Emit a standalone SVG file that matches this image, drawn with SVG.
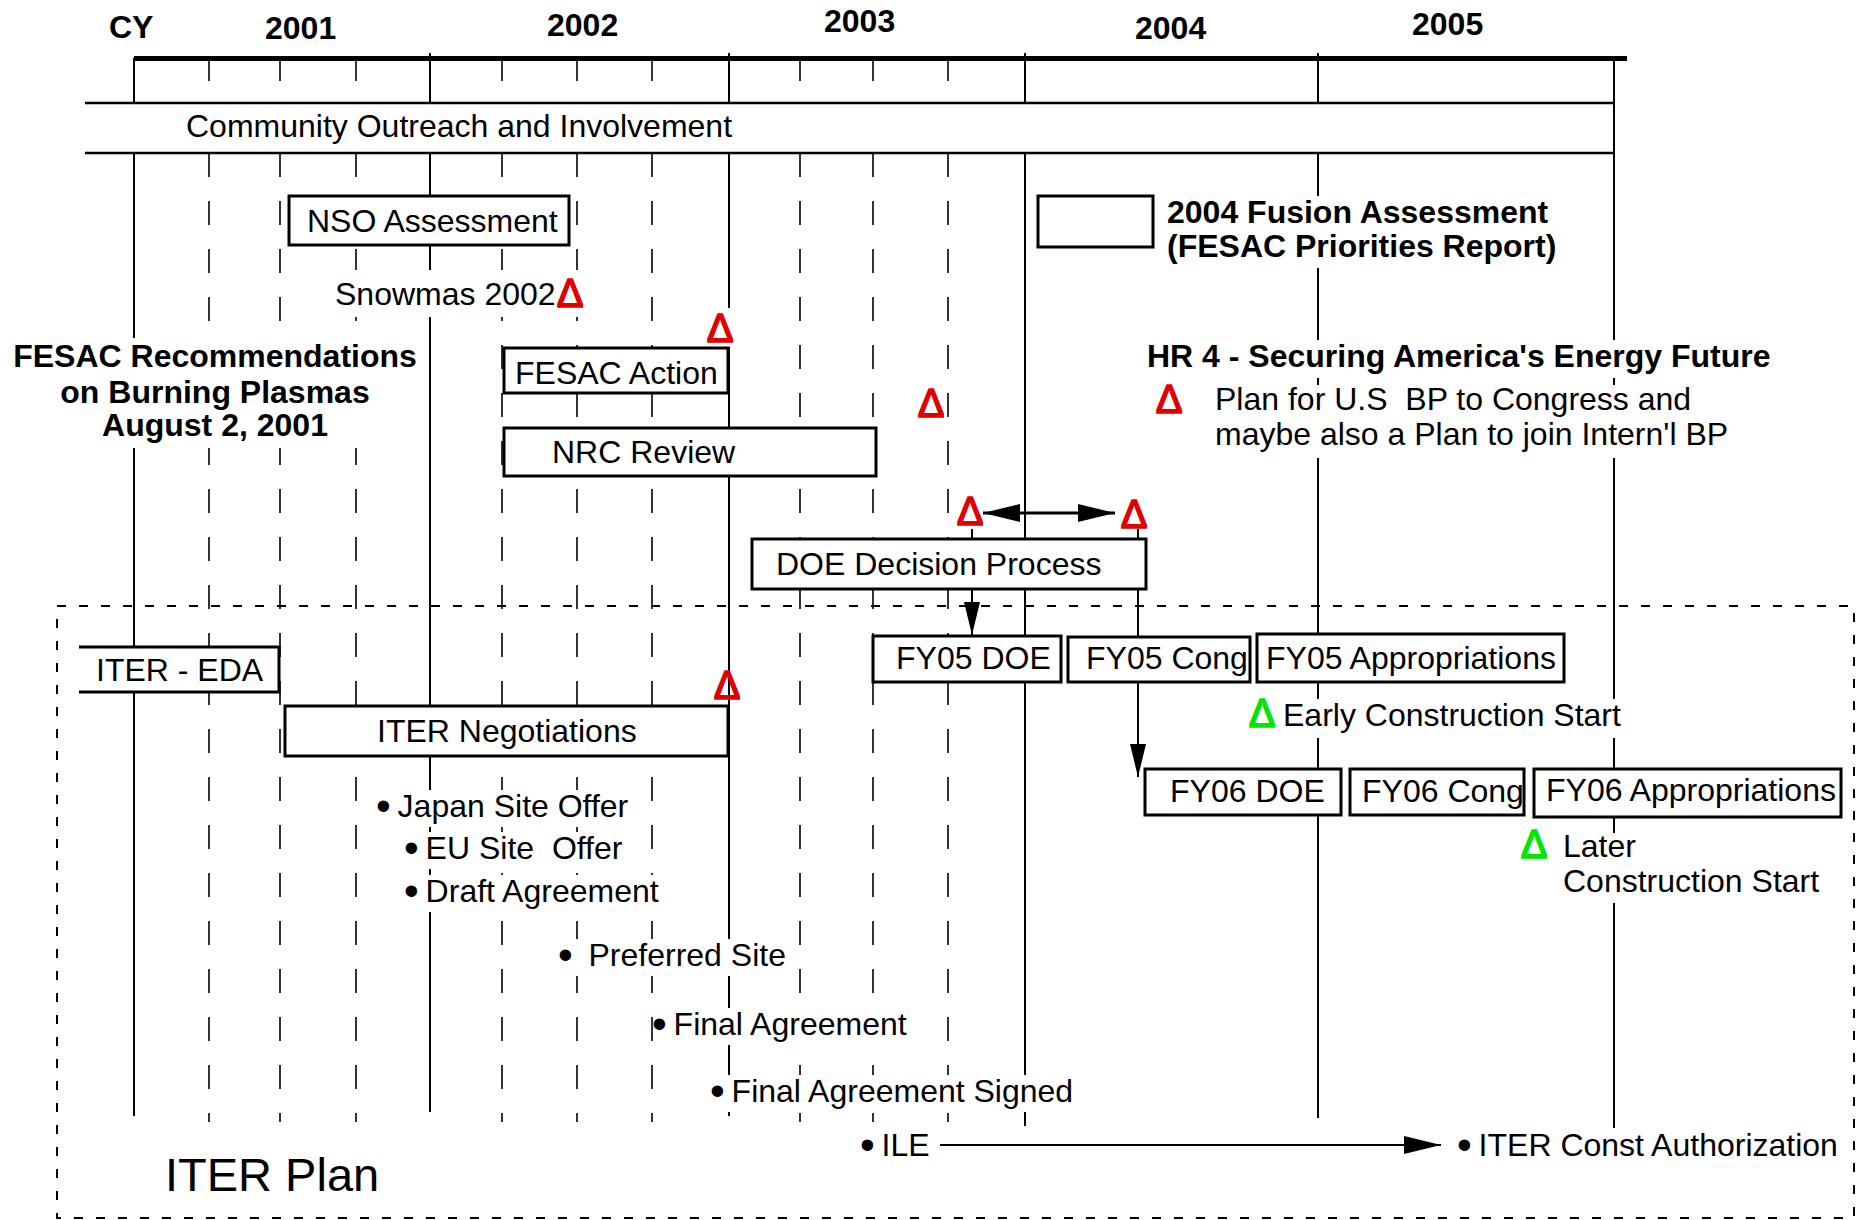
<svg xmlns="http://www.w3.org/2000/svg" width="1858" height="1220" viewBox="0 0 1858 1220">
<style>
text{font-family:"Liberation Sans",Arial,sans-serif;font-size:32px;fill:#000;white-space:pre}
.b{font-weight:bold}
.box{fill:#fff;stroke:#000;stroke-width:3}
.maj{stroke:#000;stroke-width:2;fill:none}
.q{stroke:#000;stroke-width:1.6;fill:none;stroke-dasharray:24 24}
.tick{stroke:#000;stroke-width:1.6}
.mask{fill:#fff}
.red{fill:#e00000;stroke:#e00000;stroke-width:1.6;font-size:40px}
.grn{fill:#00e600;stroke:#00e600;stroke-width:1.6;font-size:40px}
.bul{font-size:42px}
.con{stroke:#000;stroke-width:2;fill:none}
</style>
<defs>
<marker id="ah" markerUnits="userSpaceOnUse" markerWidth="38" markerHeight="20" refX="37" refY="9" orient="auto-start-reverse" viewBox="0 0 38 20">
<path d="M0,0 L37,9 L0,18 z" fill="#000"/>
</marker>
<marker id="ahs" markerUnits="userSpaceOnUse" markerWidth="34" markerHeight="18" refX="33" refY="8" orient="auto" viewBox="0 0 34 18">
<path d="M0,0 L33,8 L0,16 z" fill="#000"/>
</marker>
</defs>
<rect width="1858" height="1220" fill="#fff"/>

<g id="timeline-axis">
<text class="b" x="109" y="38">CY</text>
<text class="b" x="265" y="39">2001</text>
<text class="b" x="547" y="36">2002</text>
<text class="b" x="824" y="32">2003</text>
<text class="b" x="1135" y="39">2004</text>
<text class="b" x="1412" y="35">2005</text>
<line x1="134" y1="58.5" x2="1627" y2="58.5" stroke="#000" stroke-width="5"/>
<g class="maj">
<line x1="134" y1="58" x2="134" y2="103"/>
<line x1="430" y1="53" x2="430" y2="103"/>
<line x1="729" y1="53" x2="729" y2="103"/>
<line x1="1025" y1="53" x2="1025" y2="103"/>
<line x1="1318" y1="53" x2="1318" y2="103"/>
<line x1="134" y1="153" x2="134" y2="1116"/>
<line x1="430" y1="153" x2="430" y2="1112"/>
<line x1="729" y1="153" x2="729" y2="1116"/>
<line x1="1025" y1="153" x2="1025" y2="1126"/>
<line x1="1318" y1="153" x2="1318" y2="1118"/>
<line x1="1614" y1="58" x2="1614" y2="1128"/>
</g>
<g class="tick">
<line x1="209" y1="61" x2="209" y2="81"/>
<line x1="280" y1="61" x2="280" y2="81"/>
<line x1="356" y1="61" x2="356" y2="81"/>
<line x1="502" y1="61" x2="502" y2="81"/>
<line x1="577" y1="61" x2="577" y2="81"/>
<line x1="652" y1="61" x2="652" y2="81"/>
<line x1="800" y1="61" x2="800" y2="81"/>
<line x1="873" y1="61" x2="873" y2="81"/>
<line x1="948" y1="61" x2="948" y2="81"/>
</g>
<g class="q">
<line x1="209" y1="153" x2="209" y2="1122"/>
<line x1="280" y1="153" x2="280" y2="1122"/>
<line x1="356" y1="153" x2="356" y2="1122"/>
<line x1="502" y1="153" x2="502" y2="1122"/>
<line x1="577" y1="153" x2="577" y2="1122"/>
<line x1="652" y1="153" x2="652" y2="1122"/>
<line x1="800" y1="153" x2="800" y2="1122"/>
<line x1="873" y1="153" x2="873" y2="1122"/>
<line x1="948" y1="153" x2="948" y2="1122"/>
</g>
</g>

<g id="text-backgrounds" class="mask">
<rect x="330" y="270" width="255" height="47"/>
<rect x="706" y="308" width="28" height="39"/>
<rect x="10" y="338" width="412" height="110"/>
<rect x="1160" y="196" width="395" height="72"/>
<rect x="1143" y="340" width="632" height="38"/>
<rect x="1150" y="385" width="580" height="73"/>
<rect x="1248" y="699" width="376" height="39"/>
<rect x="1518" y="833" width="305" height="70"/>
<rect x="378" y="790" width="256" height="37"/>
<rect x="406" y="832" width="222" height="37"/>
<rect x="406" y="875" width="260" height="37"/>
<rect x="560" y="939" width="232" height="37"/>
<rect x="655" y="1008" width="258" height="37"/>
<rect x="712" y="1075" width="370" height="37"/>
<rect x="862" y="1128" width="62" height="38"/>
</g>

<g id="community-outreach">
<rect x="85" y="103" width="1529" height="50" fill="#fff"/>
<line x1="85" y1="103" x2="1614" y2="103" stroke="#000" stroke-width="2.5"/>
<line x1="85" y1="153" x2="1614" y2="153" stroke="#000" stroke-width="2.5"/>
<line x1="1614" y1="103" x2="1614" y2="153" stroke="#000" stroke-width="2"/>
<text x="186" y="137">Community Outreach and Involvement</text>
</g>

<g id="iter-plan-region">
<rect x="57" y="606" width="1797" height="612" fill="none" stroke="#000" stroke-width="2" stroke-dasharray="9 13"/>
<text x="165" y="1191" style="font-size:47px">ITER Plan</text>
</g>

<g id="connectors">
<line class="con" x1="972" y1="529" x2="972" y2="635" marker-end="url(#ahs)"/>
<line class="con" x1="1138" y1="529" x2="1138" y2="777" marker-end="url(#ahs)"/>
<line x1="983" y1="513" x2="1115" y2="513" stroke="#000" stroke-width="3" marker-start="url(#ah)" marker-end="url(#ah)"/>
<line x1="940" y1="1145" x2="1441" y2="1145" stroke="#000" stroke-width="2" marker-end="url(#ah)"/>
</g>

<g id="nso-assessment">
<rect class="box" x="289" y="196" width="280" height="49"/>
<text x="307" y="232">NSO Assessment</text>
</g>

<g id="fusion-assessment-2004">
<rect class="box" x="1038" y="196" width="115" height="51"/>
<text class="b" x="1167" y="223">2004 Fusion Assessment</text>
<text class="b" x="1167" y="257">(FESAC Priorities Report)</text>
</g>

<g id="snowmas-2002">
<text x="335" y="305">Snowmas 2002</text>
<text class="red" x="570" y="307" text-anchor="middle">Δ</text>
</g>

<g id="fesac-recommendations">
<text class="b" x="215" y="367" text-anchor="middle">FESAC Recommendations</text>
<text class="b" x="215" y="403" text-anchor="middle">on Burning Plasmas</text>
<text class="b" x="215" y="436" text-anchor="middle">August 2, 2001</text>
</g>

<g id="fesac-action">
<rect class="box" x="504" y="348" width="224" height="45"/>
<text x="515" y="384">FESAC Action</text>
<text class="red" x="720" y="342" text-anchor="middle">Δ</text>
</g>

<g id="nrc-review">
<rect class="box" x="504" y="428" width="372" height="48"/>
<text x="552" y="463">NRC Review</text>
<text class="red" x="931" y="417" text-anchor="middle">Δ</text>
</g>

<g id="hr4">
<text class="b" x="1147" y="367">HR 4 - Securing America's Energy Future</text>
<text class="red" x="1169" y="413" text-anchor="middle">Δ</text>
<text x="1215" y="410">Plan for U.S  BP to Congress and</text>
<text x="1215" y="445">maybe also a Plan to join Intern'l BP</text>
</g>

<g id="doe-decision-process">
<text class="red" x="970" y="525" text-anchor="middle">Δ</text>
<text class="red" x="1134" y="528" text-anchor="middle">Δ</text>
<rect class="box" x="752" y="539" width="394" height="50"/>
<text x="776" y="575">DOE Decision Process</text>
</g>

<g id="fy05-doe">
<rect class="box" x="873" y="636" width="188" height="46"/>
<text x="896" y="669">FY05 DOE</text>
</g>
<g id="fy05-cong">
<rect class="box" x="1068" y="637" width="182" height="45"/>
<text x="1086" y="669">FY05 Cong</text>
</g>
<g id="fy05-appropriations">
<rect class="box" x="1257" y="634" width="307" height="48"/>
<text x="1266" y="669">FY05 Appropriations</text>
</g>
<g id="early-construction-start">
<text class="grn" x="1262" y="727" text-anchor="middle">Δ</text>
<text x="1283" y="726">Early Construction Start</text>
</g>

<g id="fy06-doe">
<rect class="box" x="1145" y="769" width="196" height="46"/>
<text x="1170" y="802">FY06 DOE</text>
</g>
<g id="fy06-cong">
<rect class="box" x="1350" y="769" width="174" height="46"/>
<text x="1362" y="802">FY06 Cong</text>
</g>
<g id="fy06-appropriations">
<rect class="box" x="1534" y="769" width="307" height="48"/>
<text x="1546" y="801">FY06 Appropriations</text>
</g>
<g id="later-construction-start">
<text class="grn" x="1534" y="858" text-anchor="middle">Δ</text>
<text x="1563" y="857">Later</text>
<text x="1563" y="892">Construction Start</text>
</g>

<g id="iter-eda">
<rect x="79" y="647" width="200" height="45" fill="#fff"/>
<path d="M79,647 H279 V692 H79" fill="none" stroke="#000" stroke-width="3"/>
<text x="96" y="681">ITER - EDA</text>
</g>

<g id="iter-negotiations">
<rect class="box" x="285" y="706" width="443" height="50"/>
<text x="377" y="742">ITER Negotiations</text>
<text class="red" x="727" y="699" text-anchor="middle">Δ</text>
</g>

<g id="iter-milestones">
<text x="376" y="817"><tspan class="bul" dy="3">•</tspan><tspan dx="-2" dy="-3"> Japan Site Offer</tspan></text>
<text x="404" y="859"><tspan class="bul" dy="3">•</tspan><tspan dx="-2" dy="-3"> EU Site  Offer</tspan></text>
<text x="404" y="902"><tspan class="bul" dy="3">•</tspan><tspan dx="-2" dy="-3"> Draft Agreement</tspan></text>
<text x="558" y="966"><tspan class="bul" dy="3">•</tspan><tspan dx="-2" dy="-3">  Preferred Site</tspan></text>
<text x="652" y="1035"><tspan class="bul" dy="3">•</tspan><tspan dx="-2" dy="-3"> Final Agreement</tspan></text>
<text x="710" y="1102"><tspan class="bul" dy="3">•</tspan><tspan dx="-2" dy="-3"> Final Agreement Signed</tspan></text>
<text x="860" y="1156"><tspan class="bul" dy="3">•</tspan><tspan dx="-2" dy="-3"> ILE</tspan></text>
<text x="1457" y="1156"><tspan class="bul" dy="3">•</tspan><tspan dx="-2" dy="-3"> ITER Const Authorization</tspan></text>
</g>
</svg>
